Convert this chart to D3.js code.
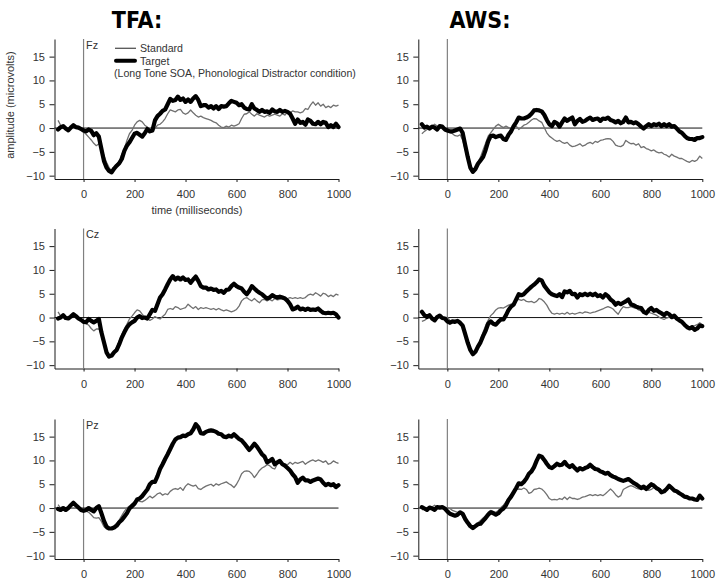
<!DOCTYPE html>
<html><head><meta charset="utf-8">
<script src="https://cdn.jsdelivr.net/npm/d3@7"></script>
<style>
body{margin:0;background:#fff}
svg{display:block}
text{font-family:Arial,"Liberation Sans",sans-serif}
</style>
</head><body>
<svg id="chart" width="721" height="586"></svg>
<script>
// ---------- data ----------
const times = d3.range(-100, 1001, 10);
const groups = ["TFA:", "AWS:"];
const sites = ["Fz", "Cz", "Pz"];
const yTicks = [-10, -5, 0, 5, 10, 15];
const xTicks = [0, 200, 400, 600, 800, 1000];
const legendLabels = ["Standard", "Target"];
const conditionNote = "(Long Tone SOA, Phonological Distractor condition)";

const tfaFzTarget = [-0.3,0.2,0.4,-0.1,-0.5,0.1,0.6,0.2,0.1,-0.2,
 -0.5,-0.7,-0.3,-0.6,-1.5,-1.1,-1.8,-4.4,-6.9,-8.3,
 -9.0,-9.3,-8.5,-7.9,-7.4,-6.5,-4.8,-3.7,-3.0,-2.1,
 -1.2,-1.0,-1.4,-1.8,-1.1,-0.2,-0.7,-0.5,1.6,2.5,
 3.0,3.6,3.9,5.0,6.1,5.7,5.9,6.6,5.9,6.2,
 5.5,6.0,5.5,6.2,6.7,5.9,4.6,4.8,4.8,4.3,
 4.6,4.1,4.6,4.0,4.6,4.5,4.6,5.2,5.7,5.5,
 5.3,4.8,5.0,4.3,4.0,3.9,5.0,4.1,3.8,3.4,
 3.8,3.4,3.5,3.2,3.9,3.5,3.4,3.8,3.4,3.6,
 3.4,3.0,2.0,0.9,1.8,1.1,1.3,0.7,1.8,1.5,
 0.9,0.8,1.3,0.8,1.3,1.1,0.2,0.6,0.2,0.9,0.2];
const tfaFzStandard = [1.6,0.6,0.2,-0.1,-0.2,0.1,0.2,0.1,-0.1,-0.4,
 -0.9,-1.3,-1.9,-2.5,-3.2,-3.7,-3.3,-4.2,-5.8,-7.2,
 -8.3,-9.0,-8.3,-7.6,-6.9,-5.5,-4.4,-2.6,-1.2,-0.5,
 0.6,1.3,1.6,1.3,0.6,0.2,-0.5,-0.7,-0.1,0.6,
 0.8,1.3,2.0,3.0,3.8,3.6,3.4,3.8,3.9,3.2,
 2.9,3.2,3.8,3.2,2.7,2.3,2.5,2.2,2.0,1.8,
 1.6,1.3,1.1,0.6,0.2,0.1,0.4,0.2,0.6,0.4,
 0.6,0.9,2.0,2.9,3.0,3.4,2.9,2.5,3.0,2.7,
 2.5,2.3,2.7,2.5,2.7,2.9,2.7,2.5,3.0,2.7,
 3.4,3.2,3.6,3.4,3.4,3.2,3.4,4.1,3.9,4.8,
 5.5,4.8,5.3,4.6,5.0,4.3,4.6,4.3,4.8,4.6,4.8];

const awsFzTarget = [0.8,0.1,0.3,-0.1,0.3,0.1,-0.3,0.4,0.3,-0.3,
 -0.5,-0.7,-0.7,-0.5,-0.3,-0.1,-1.0,-3.6,-6.1,-8.3,
 -9.2,-8.6,-7.5,-6.8,-6.1,-4.6,-2.8,-1.7,-1.6,-1.9,
 -1.7,-1.6,-2.3,-2.5,-1.4,-0.7,0.4,1.2,2.2,2.0,
 2.0,2.2,2.5,3.0,3.7,3.8,3.7,3.5,2.8,1.7,
 0.8,0.4,1.3,1.0,0.3,1.2,2.0,1.5,1.9,2.2,
 0.8,1.5,1.9,1.3,1.5,1.9,2.2,1.7,1.9,2.0,
 1.5,2.0,1.9,2.2,1.7,1.5,1.2,1.5,1.0,1.3,
 2.2,1.2,1.3,1.0,1.2,0.8,0.3,-0.1,0.4,0.8,
 0.4,0.8,0.6,0.9,0.4,0.8,0.4,0.8,0.3,0.4,
 -0.1,-0.7,-1.0,-1.6,-2.1,-2.3,-2.3,-2.5,-2.1,-2.1,-1.9];
const awsFzStandard = [-1.2,-0.7,-0.3,0.1,0.4,0.8,0.4,0.1,-0.1,-0.4,
 -0.7,-0.9,-1.2,-1.6,-1.7,-1.4,-2.5,-4.6,-6.8,-8.3,
 -8.8,-8.3,-7.2,-6.1,-4.6,-3.2,-1.7,-1.0,-0.3,0.4,
 0.8,0.4,0.1,0.4,0.1,-0.3,0.3,0.4,-0.3,0.1,
 0.6,0.8,1.2,1.7,2.0,1.9,1.5,1.2,0.1,-1.0,
 -1.7,-2.1,-2.5,-2.8,-2.6,-3.0,-3.2,-3.0,-3.6,-3.9,
 -3.8,-3.6,-3.3,-3.8,-3.6,-3.2,-3.0,-3.3,-2.8,-3.0,
 -2.6,-2.5,-2.3,-2.2,-2.3,-2.8,-3.6,-3.8,-3.9,-3.6,
 -2.6,-3.0,-3.3,-3.2,-3.6,-3.3,-4.1,-3.9,-4.3,-4.5,
 -4.8,-4.6,-5.0,-5.2,-5.1,-5.5,-5.7,-6.1,-5.5,-5.9,
 -6.1,-6.4,-6.4,-6.7,-7.0,-7.2,-6.8,-7.0,-6.7,-5.9,-6.4];

const tfaCzTarget = [-0.2,0,0.5,-0.1,-0.2,0.2,0.7,0.3,-0.2,-0.5,
 -0.9,-1.0,-0.3,-0.7,-1.0,-0.7,-0.3,-3.1,-5.2,-7.3,
 -8.2,-8.0,-7.3,-6.8,-5.6,-4.2,-3.1,-2.1,-1.4,-1.0,
 -0.7,0,0.3,-0.1,0,-0.2,0.7,1.6,1.4,2.8,
 4.2,4.9,5.9,7.0,8.0,8.7,8.0,8.4,8.0,8.4,
 7.9,8.0,7.3,8.0,8.6,7.7,6.6,6.3,6.3,5.9,
 6.1,5.8,5.9,5.4,5.6,5.2,5.8,5.9,6.6,7.1,
 6.6,6.3,6.1,5.4,4.9,5.6,6.6,6.1,5.6,5.2,
 4.9,4.4,4.0,4.2,4.7,4.4,4.2,4.4,4.2,4.0,
 3.5,2.8,1.7,1.9,2.3,1.7,1.9,1.6,1.9,1.6,
 1.7,1.6,1.9,1.4,1.0,0.9,1.0,0.9,1.0,0.7,0];
const tfaCzStandard = [1.2,0.3,0,0.2,0,0.2,0.3,0.1,-0.2,-0.3,
 -0.7,-1.2,-1.6,-2.3,-2.8,-2.4,-2.4,-3.5,-5.2,-7.0,
 -8.0,-7.9,-7.2,-6.3,-4.9,-3.5,-2.4,-1.4,-0.3,0.3,
 1.0,1.6,1.4,0.7,0.1,-0.2,-0.6,-0.3,0.2,-0.1,
 -0.3,0.2,0.7,1.7,1.9,1.7,2.3,2.1,1.7,1.9,
 2.1,2.8,2.3,1.9,2.3,1.7,2.1,1.9,2.1,1.9,
 1.7,1.9,1.6,1.9,1.6,1.4,1.6,1.4,1.2,1.4,
 1.7,2.4,3.5,4.0,4.2,3.8,3.5,4.0,3.5,3.1,
 3.7,3.8,3.5,3.8,3.5,4.0,3.7,3.8,4.0,3.7,
 4.0,4.2,4.0,4.2,4.0,4.2,4.0,4.2,4.7,4.9,
 4.7,5.2,4.9,4.5,5.1,4.9,4.4,4.7,4.4,4.9,4.7];

const awsCzTarget = [1.2,0.5,0.1,0.5,-0.2,-0.6,0.1,0.4,-0.1,-0.2,
 -0.8,-1.1,-0.8,-0.9,-0.7,-1.1,-1.7,-3.5,-5.3,-6.8,
 -7.7,-7.2,-6.1,-5.2,-3.9,-2.8,-1.3,-0.8,-1.3,-1.5,
 -0.9,-0.4,-0.4,0.5,1.6,2.3,2.7,3.8,4.9,4.7,
 4.9,5.5,6.0,6.5,6.9,7.4,8.0,7.8,6.7,6.0,
 5.3,4.9,4.7,4.5,4.9,4.3,5.5,5.3,5.6,4.9,
 5.0,4.2,4.9,4.7,5.0,4.7,5.0,4.7,5.0,4.5,
 4.7,4.2,4.9,4.5,3.8,3.4,2.7,3.1,2.8,3.1,
 3.4,3.8,2.8,2.6,2.3,2.1,2.0,1.2,0.9,1.6,
 2.0,1.4,1.6,1.2,0.9,0.5,1.0,0.7,0.1,0.4,
 -0.2,-0.6,-0.9,-1.5,-2.0,-2.3,-2.0,-2.6,-2.3,-1.7,-1.8];
const awsCzStandard = [-0.8,-0.6,-0.2,0.1,-0.1,-0.2,-0.1,0.1,-0.1,-0.2,
 0.1,-0.6,-0.9,-0.6,-0.8,-1.1,-2.0,-3.9,-5.7,-6.9,
 -7.4,-6.9,-5.9,-4.6,-3.1,-1.7,-0.6,0.4,0.9,1.6,
 2.0,2.1,2.0,2.3,2.6,2.8,3.1,3.6,3.8,3.6,
 3.8,3.4,3.3,3.4,3.1,3.4,4.0,3.8,3.3,2.6,
 1.6,0.9,0.7,0.9,0.7,0.9,0.7,1.1,0.7,0.9,
 0.7,0.9,1.1,0.9,1.2,1.1,0.9,1.1,1.2,1.4,
 1.6,1.8,2.1,2.3,2.1,1.8,1.2,0.7,1.6,2.3,
 2.1,2.1,2.3,2.1,2.0,1.6,1.4,1.1,0.9,1.1,
 0.9,0.7,0.5,0.1,-0.2,-0.4,-0.1,0.1,-0.2,-0.1,
 -0.2,-0.6,-0.9,-1.3,-1.7,-2.0,-1.8,-1.7,-1.5,-1.1,-1.5];

const tfaPzTarget = [-0.2,-0.4,0,-0.4,0,0.6,1.1,0.6,0.1,-0.4,
 -0.6,-0.4,0,-0.4,-0.7,0,0.4,-1.1,-2.7,-3.9,
 -4.3,-4.3,-4.1,-3.7,-3.0,-2.5,-1.8,-1.1,-0.1,0.4,
 0.9,1.8,2.0,2.5,3.2,3.9,5.0,5.5,5.5,6.7,
 8.2,9.2,10.3,11.3,12.4,13.5,14.4,14.8,14.9,15.2,
 15.1,15.5,15.7,16.5,17.6,17.0,15.7,15.6,16.0,16.2,
 16.3,16.2,16.0,15.6,15.5,15.0,14.9,15.2,15.0,15.5,
 15.0,14.5,14.2,13.6,12.9,12.2,12.8,13.5,12.9,12.1,
 11.3,10.8,9.6,9.9,10.3,9.2,9.6,9.9,9.2,8.9,
 8.4,7.9,7.1,6.5,5.3,6.0,6.4,5.8,5.8,5.5,
 5.8,6.0,6.2,6.0,5.3,4.8,5.1,4.8,5.0,4.4,4.8];
const tfaPzStandard = [0.7,0,-0.1,0.1,0,0.4,0.7,0.4,0,-0.1,
 -0.4,-0.6,-0.9,-1.4,-2.0,-2.1,-2.0,-2.8,-3.9,-4.4,
 -4.3,-4.1,-3.7,-3.2,-2.5,-1.6,-0.7,0,0.4,0.9,
 1.4,1.6,1.4,1.3,1.6,2.0,2.5,2.1,2.5,3.0,
 3.2,2.7,3.0,2.8,3.5,3.9,4.1,3.9,4.3,3.7,
 4.6,5.1,4.8,4.6,4.8,4.1,3.9,4.3,4.6,4.8,
 5.0,4.6,5.1,4.8,5.1,5.3,5.5,5.1,4.8,4.3,
 5.0,6.0,7.2,7.7,7.8,7.7,7.2,6.4,7.1,7.9,
 8.4,8.7,9.1,8.9,8.4,8.2,9.2,9.6,9.4,9.2,
 9.1,9.6,9.2,9.6,9.4,9.6,9.8,9.2,9.6,9.9,
 10.1,9.8,10.1,9.9,9.6,9.9,9.2,9.4,9.9,9.6,9.4];

const awsPzTarget = [0.2,-0.1,-0.4,0.1,-0.1,-0.4,0.2,0.1,0.2,-0.1,
 -0.7,-1.2,-1.4,-1.6,-1.4,-0.9,-1.2,-2.3,-3.1,-3.8,
 -4.2,-3.8,-3.4,-3.3,-2.7,-2.1,-1.4,-0.9,-1.1,-1.4,
 -1.1,-0.5,-0.1,0.6,1.7,2.4,3.3,4.2,5.2,5.0,
 5.5,6.2,7.2,7.7,8.6,9.9,11.0,10.8,10.1,9.3,
 8.6,8.4,8.8,9.3,9.0,9.1,9.7,9.0,8.6,9.0,
 8.4,7.9,8.4,8.1,8.4,8.6,9.1,8.6,8.2,8.1,
 7.7,7.5,7.2,7.4,6.9,6.6,6.4,6.1,5.9,5.7,
 5.9,6.1,5.7,5.3,5.0,4.6,4.2,4.5,4.0,4.5,
 5.0,4.7,4.2,3.9,3.3,3.5,4.0,4.7,4.2,3.7,
 3.5,3.1,2.8,2.4,2.3,2.0,2.0,1.8,1.7,2.6,2.0];
const awsPzStandard = [-0.4,-0.1,0.1,-0.1,0.2,0.6,0.2,0.4,0.1,-0.1,
 0.1,-0.1,-0.5,-0.7,-0.9,-1.1,-1.6,-2.6,-3.4,-4.0,
 -4.2,-3.8,-3.1,-2.6,-2.1,-1.6,-0.9,-0.5,-0.7,-0.9,
 -0.5,0.1,0.6,1.3,2.0,2.8,3.3,3.9,4.0,3.9,
 4.2,3.9,3.1,3.3,3.9,4.0,4.2,4.0,3.5,2.8,
 2.0,1.7,1.8,1.7,2.0,1.8,2.3,1.8,2.3,2.0,
 2.0,1.8,2.0,2.3,2.4,2.6,2.8,2.6,2.8,2.6,
 2.8,2.6,3.0,3.5,4.0,3.5,2.8,2.3,2.6,3.9,
 4.2,4.5,4.7,4.5,4.2,4.0,4.2,4.0,3.9,3.7,
 3.9,4.3,4.0,3.8,3.4,3.5,3.9,4.5,4.1,3.6,
 3.4,3.0,2.7,2.3,2.2,2.0,1.9,1.8,1.6,2.3,2.0];

// panel table built from the named arrays: [row][col]
const panels = [
  [{std: tfaFzStandard, tgt: tfaFzTarget}, {std: awsFzStandard, tgt: awsFzTarget}],
  [{std: tfaCzStandard, tgt: tfaCzTarget}, {std: awsCzStandard, tgt: awsCzTarget}],
  [{std: tfaPzStandard, tgt: tfaPzTarget}, {std: awsPzStandard, tgt: awsPzTarget}]
];

// ---------- layout ----------
const svg = d3.select("#chart");
const colLeft = [54.5, 418.3];
const plotW = 284;
const rowBottom = [179, 368.5, 559];
const plotH = 140;
const xDomain = [-114, 1000];
const yDomain = [-10.7, 18.7];
const axisColor = "#1a1a1a";
const textColor = "#333";

// column titles
groups.forEach((g, c) => {
  svg.append("text")
    .attr("x", c === 0 ? 137 : 480).attr("y", 28)
    .attr("text-anchor", "middle")
    .style("font-family", '"Liberation Sans Narrow","Arial Narrow","DejaVu Sans Condensed",sans-serif')
    .style("font-weight", "bold").style("font-size", "23px")
    .attr("fill", "#000").text(g);
});

panels.forEach((row, r) => {
  row.forEach((p, c) => {
    const x = d3.scaleLinear().domain(xDomain).range([colLeft[c], colLeft[c] + plotW]);
    const y = d3.scaleLinear().domain(yDomain).range([rowBottom[r], rowBottom[r] - plotH]);
    const g = svg.append("g");

    // y axis
    const ya = g.append("g").attr("transform", `translate(${colLeft[c]},0)`)
      .call(d3.axisLeft(y).tickValues(yTicks).tickFormat(d3.format("d"))
        .tickSize(5).tickSizeOuter(0).tickPadding(4.5));
    ya.select(".domain").attr("stroke", axisColor);
    ya.selectAll(".tick line").attr("stroke", axisColor);
    ya.selectAll(".tick text").attr("fill", textColor).style("font-size", "11px")
      .style("font-family", "Arial,'Liberation Sans',sans-serif");

    // x axis
    const xa = g.append("g").attr("transform", `translate(0,${rowBottom[r]})`)
      .call(d3.axisBottom(x).tickValues(xTicks).tickFormat(d3.format("d"))
        .tickSize(3).tickSizeOuter(0).tickPadding(8.5));
    xa.select(".domain").attr("stroke", axisColor);
    xa.selectAll(".tick line").attr("stroke", axisColor);
    xa.selectAll(".tick text").attr("fill", textColor).style("font-size", "11px")
      .style("font-family", "Arial,'Liberation Sans',sans-serif");

    // zero lines
    g.append("line")
      .attr("x1", x(0)).attr("x2", x(0))
      .attr("y1", rowBottom[r] - plotH).attr("y2", rowBottom[r])
      .attr("stroke", "#808080").attr("stroke-width", 1.2);
    g.append("line")
      .attr("x1", colLeft[c]).attr("x2", x(1000))
      .attr("y1", y(0)).attr("y2", y(0))
      .attr("stroke", "#111").attr("stroke-width", 1);

    // site label
    if (c === 0) {
      g.append("text").attr("x", x(0) + 2.5).attr("y", rowBottom[r] - plotH + 9.5)
        .style("font-size", "10.8px").attr("fill", textColor).text(sites[r]);
    }

    const line = d3.line().x((d, i) => x(times[i])).y(d => y(d));
    g.append("path").datum(p.std).attr("d", line)
      .attr("fill", "none").attr("stroke", "#707070").attr("stroke-width", 1.3)
      .attr("stroke-linejoin", "round");
    g.append("path").datum(p.tgt).attr("d", line)
      .attr("fill", "none").attr("stroke", "#000").attr("stroke-width", 4.2)
      .attr("stroke-linejoin", "round").attr("stroke-linecap", "round");
  });
});

// legend (first panel)
const lg = svg.append("g");
lg.append("line").attr("x1", 115).attr("x2", 136).attr("y1", 48.3).attr("y2", 48.3)
  .attr("stroke", "#555").attr("stroke-width", 1.3);
lg.append("line").attr("x1", 116).attr("x2", 135).attr("y1", 60.7).attr("y2", 60.7)
  .attr("stroke", "#000").attr("stroke-width", 4).attr("stroke-linecap", "round");
lg.append("text").attr("x", 140).attr("y", 52).style("font-size", "10.6px").attr("fill", textColor).text(legendLabels[0]);
lg.append("text").attr("x", 140).attr("y", 64.5).style("font-size", "10.6px").attr("fill", textColor).text(legendLabels[1]);
lg.append("text").attr("x", 114).attr("y", 77).style("font-size", "10.6px").attr("fill", textColor).text(conditionNote);

// axis titles (first panel)
svg.append("text").attr("transform", "translate(14,105) rotate(-90)")
  .attr("text-anchor", "middle").style("font-size", "11px").attr("fill", textColor)
  .text("amplitude (microvolts)");
svg.append("text").attr("x", 197).attr("y", 214)
  .attr("text-anchor", "middle").style("font-size", "11px").attr("fill", textColor)
  .text("time (milliseconds)");
</script>
</body></html>
